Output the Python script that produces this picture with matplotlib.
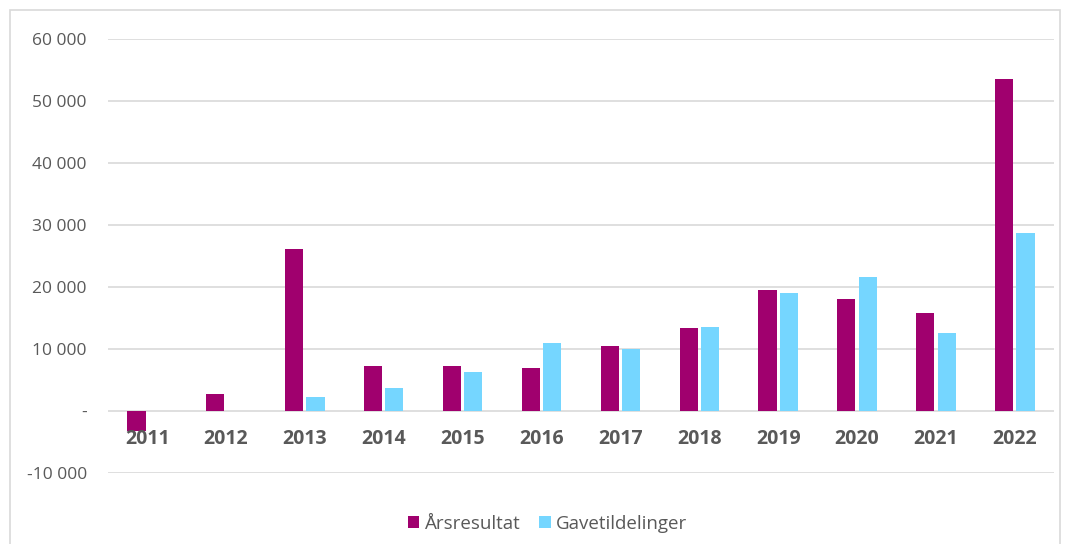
import matplotlib
matplotlib.use("Agg")
import matplotlib.pyplot as plt
import matplotlib.ticker as mticker
import numpy as np

years = ["2011", "2012", "2013", "2014", "2015", "2016",
         "2017", "2018", "2019", "2020", "2021", "2022"]
arsresultat = [-3200, 2700, 26100, 7300, 7300, 7000,
               10500, 13400, 19500, 18000, 15800, 53500]
gavetildelinger = [0, 0, 2200, 3700, 6300, 11000,
                   10000, 13500, 19000, 21600, 12600, 28700]

MAGENTA = "#A0006E"
CYAN = "#75D6FF"
TEXT = "#595959"
GRID = "#D9D9D9"

plt.rcParams["font.family"] = ["Open Sans", "DejaVu Sans"]

fig = plt.figure(figsize=(10.66, 5.44), dpi=100)
ax = fig.add_axes([0.101, 0.1305, 0.888, 0.7978])

# light frame round the whole chart
fig.patches.append(plt.Rectangle((0.009, -0.01), 0.985, 0.992,
                                 transform=fig.transFigure, fill=False,
                                 edgecolor="#D9D9D9", linewidth=1.2))

x = np.arange(len(years))
w = 0.23
ax.bar(x - 0.135, arsresultat, w, color=MAGENTA, label="Årsresultat", zorder=3)
ax.bar(x + 0.135, gavetildelinger, w, color=CYAN, label="Gavetildelinger", zorder=3)

ax.set_xlim(-0.5, len(years) - 0.5)
ax.set_ylim(-10000, 60000)
ax.set_yticks(range(-10000, 60001, 10000))


def fmt(v, pos):
    if v == 0:
        return "-"
    return f"{int(v):,}".replace(",", " ")


ax.yaxis.set_major_formatter(mticker.FuncFormatter(fmt))
ax.tick_params(axis="y", length=0, labelsize=12.5, labelcolor=TEXT, pad=15)
ax.set_xticks([])
ax.grid(axis="y", color=GRID, linewidth=1.2, zorder=0)
for s in ax.spines.values():
    s.set_visible(False)

# category labels sit just below the zero line
for xi, yr in zip(x, years):
    ax.annotate(yr, (xi, 0), xytext=(0, -20), textcoords="offset points",
                ha="center", va="center", fontsize=14, fontweight="bold",
                color=TEXT)

ax.legend(loc="upper center", bbox_to_anchor=(0.465, -0.058), ncol=2,
          frameon=False, fontsize=13.5, labelcolor=TEXT, handlelength=0.6,
          handleheight=0.6, handletextpad=0.3, columnspacing=1.0)

fig.savefig("out.png", dpi=100, facecolor="white")
